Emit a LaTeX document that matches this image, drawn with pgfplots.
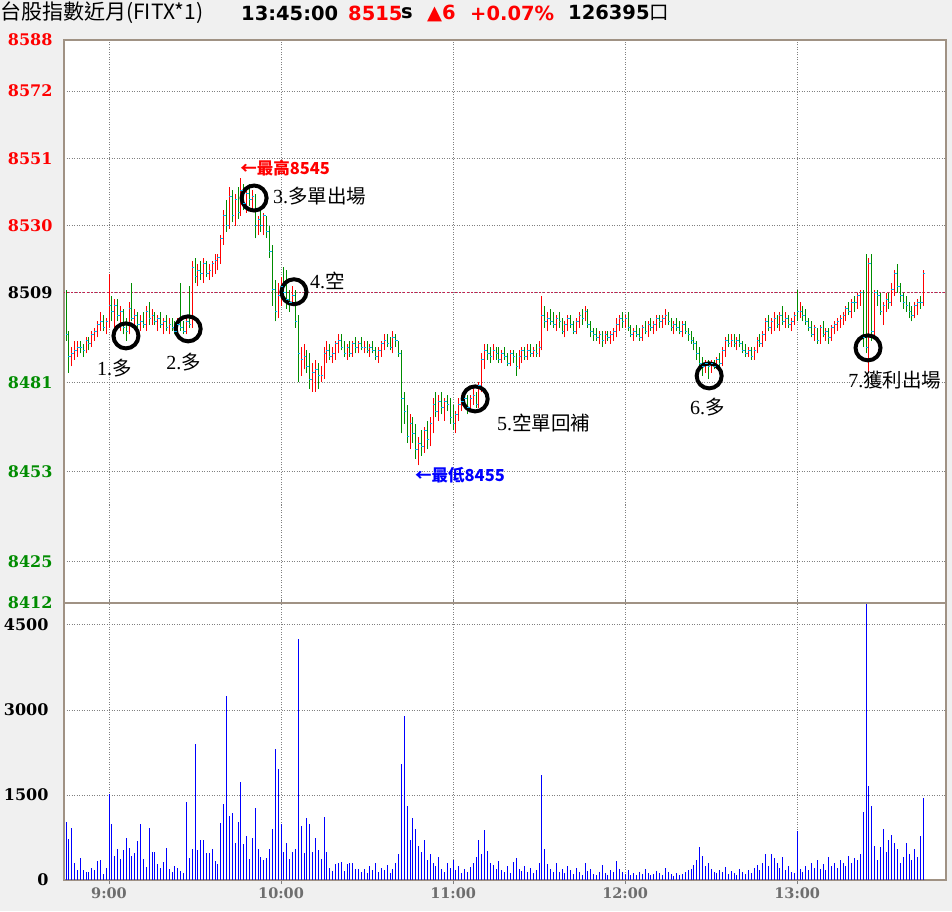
\documentclass[border=0pt]{standalone}
\usepackage{pgfplots}
\pgfplotsset{compat=1.18}
\usepackage{pgfplotstable}
\usepackage{fontspec}
\setmainfont{DejaVu Serif}
\newfontfamily\cjk{Noto Sans CJK TC}
\newfontfamily\dvs{DejaVu Sans}
\newfontfamily\tnr{Liberation Serif}
\definecolor{bgc}{RGB}{240,240,240}
\definecolor{bord}{RGB}{160,146,132}
\definecolor{gridc}{RGB}{128,128,128}
\definecolor{upc}{RGB}{255,0,0}
\definecolor{dnc}{RGB}{0,140,0}
\definecolor{cyc}{RGB}{0,176,240}
\definecolor{refc}{RGB}{200,30,80}
\definecolor{lblgreen}{RGB}{0,140,0}
\definecolor{timec}{RGB}{110,110,110}
\pgfplotsset{
  mybase/.style={
    scale only axis, width=882pt,
    xmin=-0.7, xmax=306.9,
    axis background/.style={fill=white},
    axis line style={draw=bord, line width=1.2pt},
    xtick={15,75,135,195,255},
    grid=major,
    major grid style={draw=gridc, line width=0.8pt, dash pattern=on 1pt off 1.5pt},
  }
}
\newcommand\ann[2]{{\tnr\fontsize{20}{20}\selectfont #1}{\cjk\fontsize{19.5}{20}\selectfont #2}}
\newcommand\hd{\dvs\bfseries\fontsize{19.5}{20}\selectfont}
\pgfplotstableread{
m l h c d v
0 8494 8510 8496 0 1030
1 8484 8497 8489 0 730
2 8486 8492 8490 1 920
3 8488 8494 8491 1 300
4 8489 8494 8492 1 180
5 8490 8494 8492 0 380
6 8489 8493 8491 0 180
7 8490 8495 8494 1 140
8 8491 8495 8493 0 140
9 8492 8497 8496 1 210
10 8494 8498 8497 1 180
11 8495 8500 8499 1 330
12 8497 8503 8500 1 350
13 8497 8502 8498 0 110
14 8496 8501 8500 1 210
15 8498 8515 8505 1 1510
16 8500 8508 8503 0 990
17 8498 8507 8505 1 430
18 8500 8507 8502 0 550
19 8497 8505 8503 1 370
20 8496 8504 8498 0 530
21 8494 8501 8497 0 740
22 8496 8506 8504 1 570
23 8500 8512 8501 0 430
24 8498 8504 8502 1 470
25 8496 8503 8499 0 680
26 8497 8502 8500 1 980
27 8498 8503 8499 0 370
28 8497 8505 8503 1 230
29 8499 8506 8501 0 920
30 8499 8504 8502 1 490
31 8499 8503 8500 0 490
32 8497 8502 8501 1 280
33 8498 8503 8499 0 210
34 8496 8501 8500 1 320
35 8497 8502 8498 0 570
36 8496 8501 8499 1 190
37 8497 8501 8498 0 140
38 8496 8500 8497 0 250
39 8496 8501 8499 1 210
40 8497 8512 8498 0 160
41 8496 8500 8497 0 120
42 8496 8501 8500 1 1380
43 8498 8511 8499 0 380
44 8498 8519 8517 1 550
45 8512 8520 8514 0 2400
46 8511 8518 8516 1 530
47 8513 8519 8515 0 700
48 8512 8520 8518 1 700
49 8514 8519 8515 0 470
50 8513 8518 8516 1 470
51 8514 8519 8518 1 550
52 8515 8521 8519 1 330
53 8516 8521 8520 1 280
54 8518 8527 8526 1 1000
55 8524 8535 8533 1 1340
56 8528 8538 8530 0 3250
57 8529 8542 8539 1 1130
58 8531 8541 8533 0 1180
59 8530 8540 8538 1 660
60 8532 8542 8534 0 1020
61 8533 8545 8541 1 1720
62 8535 8543 8537 0 640
63 8534 8541 8540 1 780
64 8536 8543 8538 0 370
65 8535 8541 8539 1 740
66 8526 8540 8530 0 1270
67 8527 8533 8532 1 550
68 8528 8535 8530 0 410
69 8527 8534 8533 1 350
70 8526 8533 8528 0 380
71 8520 8530 8522 0 550
72 8505 8524 8510 0 900
73 8500 8513 8503 0 2310
74 8501 8512 8508 1 1960
75 8505 8514 8511 1 990
76 8507 8517 8509 0 500
77 8504 8516 8507 0 660
78 8503 8510 8506 0 370
79 8505 8511 8508 1 500
80 8498 8510 8500 0 550
81 8481 8502 8490 0 4250
82 8483 8492 8488 1 950
83 8485 8493 8489 1 470
84 8484 8491 8486 0 1090
85 8479 8490 8482 0 990
86 8478 8487 8484 1 500
87 8478 8488 8485 1 740
88 8479 8487 8483 0 530
89 8481 8486 8483 1 370
90 8482 8492 8490 1 1110
91 8487 8494 8491 1 490
92 8488 8493 8489 0 210
93 8487 8492 8490 1 160
94 8488 8494 8493 1 280
95 8490 8496 8494 1 300
96 8491 8496 8492 0 320
97 8489 8494 8490 0 160
98 8488 8493 8492 1 280
99 8489 8494 8490 0 300
100 8489 8494 8493 1 300
101 8490 8495 8492 0 190
102 8490 8494 8493 1 190
103 8491 8495 8492 0 150
104 8490 8494 8492 1 200
105 8490 8494 8491 0 120
106 8489 8493 8492 1 250
107 8490 8494 8491 0 180
108 8488 8492 8489 0 300
109 8487 8492 8491 1 140
110 8489 8494 8493 1 220
111 8491 8496 8494 1 170
112 8492 8496 8493 0 260
113 8491 8495 8492 0 130
114 8490 8497 8495 1 200
115 8492 8496 8494 0 300
116 8489 8494 8490 0 450
117 8465 8491 8476 0 2050
118 8468 8478 8472 0 2900
119 8462 8474 8464 0 1300
120 8460 8471 8468 1 700
121 8462 8470 8465 0 1100
122 8457 8468 8460 0 900
123 8455 8464 8462 1 600
124 8458 8466 8461 0 500
125 8459 8467 8466 1 700
126 8460 8469 8463 0 350
127 8461 8470 8468 1 450
128 8465 8476 8474 1 300
129 8470 8478 8472 0 250
130 8469 8477 8475 1 400
131 8471 8478 8473 0 200
132 8469 8476 8475 1 150
133 8472 8477 8474 0 300
134 8468 8476 8470 0 220
135 8466 8474 8468 0 350
136 8465 8472 8471 1 180
137 8469 8476 8474 1 240
138 8472 8477 8475 1 120
139 8473 8478 8476 1 200
140 8471 8477 8473 0 150
141 8472 8477 8476 1 230
142 8474 8479 8477 1 300
143 8473 8478 8474 0 400
144 8473 8481 8480 1 700
145 8478 8490 8488 1 450
146 8485 8493 8491 1 880
147 8488 8493 8490 0 520
148 8487 8492 8489 0 300
149 8488 8493 8491 1 260
150 8488 8492 8490 0 200
151 8487 8492 8488 0 330
152 8487 8491 8490 1 180
153 8488 8492 8489 0 150
154 8486 8490 8487 0 240
155 8486 8491 8490 1 120
156 8487 8491 8489 0 310
157 8483 8490 8486 0 380
158 8485 8491 8489 1 200
159 8487 8492 8491 1 160
160 8488 8492 8489 0 250
161 8488 8493 8491 1 140
162 8489 8493 8490 0 220
163 8489 8492 8491 1 130
164 8489 8493 8490 0 180
165 8489 8494 8492 1 300
166 8491 8508 8502 1 1850
167 8498 8505 8500 0 550
168 8497 8503 8501 1 280
169 8499 8504 8500 0 200
170 8498 8503 8499 0 150
171 8497 8502 8501 1 300
172 8498 8503 8500 0 150
173 8496 8501 8497 0 200
174 8495 8500 8499 1 120
175 8497 8502 8501 1 250
176 8498 8502 8499 0 180
177 8496 8500 8497 0 100
178 8496 8501 8500 1 220
179 8498 8503 8502 1 140
180 8499 8504 8501 0 90
181 8500 8505 8503 1 300
182 8498 8504 8499 0 160
183 8495 8500 8497 0 200
184 8494 8498 8496 0 110
185 8494 8498 8495 0 80
186 8493 8497 8496 1 150
187 8492 8497 8494 0 260
188 8493 8497 8496 1 120
189 8494 8497 8495 0 90
190 8493 8497 8496 1 180
191 8494 8498 8497 1 140
192 8495 8501 8499 1 330
193 8497 8502 8501 1 200
194 8498 8503 8500 0 150
195 8498 8502 8501 1 100
196 8497 8503 8498 0 170
197 8495 8499 8496 0 80
198 8494 8498 8497 1 120
199 8495 8499 8496 0 90
200 8494 8498 8495 0 150
201 8494 8499 8498 1 110
202 8496 8500 8497 0 200
203 8495 8500 8499 1 130
204 8497 8501 8498 0 80
205 8496 8500 8499 1 100
206 8497 8502 8501 1 160
207 8498 8502 8500 0 120
208 8498 8502 8501 1 90
209 8499 8504 8502 1 220
210 8499 8503 8500 0 140
211 8497 8501 8498 0 100
212 8496 8500 8499 1 70
213 8497 8501 8498 0 130
214 8496 8500 8497 0 90
215 8495 8500 8499 1 110
216 8496 8500 8497 0 150
217 8494 8498 8496 0 180
218 8493 8497 8494 0 200
219 8491 8495 8493 0 260
220 8488 8494 8490 0 350
221 8485 8492 8487 0 580
222 8483 8489 8486 0 420
223 8484 8488 8487 1 250
224 8482 8488 8486 0 300
225 8484 8488 8487 1 200
226 8485 8488 8486 0 150
227 8485 8489 8488 1 120
228 8486 8490 8487 0 180
229 8486 8492 8491 1 140
230 8489 8495 8494 1 230
231 8492 8496 8493 0 100
232 8492 8496 8494 1 160
233 8492 8496 8493 0 120
234 8491 8495 8494 1 90
235 8492 8496 8493 0 200
236 8490 8494 8491 0 150
237 8489 8493 8490 0 110
238 8489 8492 8491 1 170
239 8488 8492 8489 0 130
240 8488 8492 8491 1 220
241 8490 8495 8494 1 260
242 8492 8496 8493 0 180
243 8492 8497 8496 1 300
244 8494 8501 8500 1 450
245 8497 8502 8498 0 250
246 8496 8501 8500 1 460
247 8497 8503 8501 1 380
248 8498 8502 8499 0 300
249 8497 8503 8502 1 220
250 8499 8505 8500 0 400
251 8498 8503 8501 1 180
252 8498 8502 8499 0 250
253 8497 8501 8500 1 150
254 8499 8503 8502 1 120
255 8500 8510 8503 0 860
256 8501 8506 8503 1 200
257 8500 8505 8502 0 150
258 8499 8504 8500 0 250
259 8497 8501 8498 0 180
260 8495 8500 8496 0 300
261 8494 8499 8498 1 220
262 8493 8498 8494 0 350
263 8493 8499 8498 1 200
264 8495 8500 8496 0 280
265 8494 8498 8497 1 180
266 8493 8498 8495 0 400
267 8494 8499 8498 1 250
268 8496 8500 8499 1 300
269 8497 8501 8500 1 220
270 8498 8502 8501 1 350
271 8499 8503 8502 1 300
272 8500 8505 8504 1 250
273 8502 8506 8503 0 420
274 8501 8507 8506 1 300
275 8503 8508 8506 0 380
276 8504 8509 8508 1 350
277 8505 8510 8509 1 450
278 8492 8510 8495 0 1200
279 8490 8521 8492 0 4950
280 8484 8520 8518 1 1650
281 8494 8521 8497 0 1300
282 8495 8510 8509 1 600
283 8505 8510 8508 0 350
284 8502 8509 8503 0 580
285 8499 8506 8505 1 900
286 8503 8509 8507 1 500
287 8504 8509 8506 0 700
288 8505 8512 8510 1 800
289 8508 8516 8515 1 650
290 8509 8518 8511 0 550
291 8506 8512 8508 0 300
292 8504 8509 8506 0 400
293 8503 8508 8505 0 650
294 8501 8506 8503 0 450
295 8500 8505 8502 0 350
296 8501 8506 8505 1 550
297 8502 8507 8506 1 400
298 8504 8508 8506 0 780
299 8505 8516 8515 1 1450
}\data
\begin{document}
\begin{tikzpicture}
\fill[bgc] (0pt,0pt) rectangle (952pt,911pt);
% ---------- price panel ----------
\begin{axis}[mybase, at={(64pt,308pt)}, anchor=south west, height=563pt,
  ymin=8412, ymax=8588,
  ytick={8412,8425,8453,8481,8509,8530,8551,8572,8588},
  yticklabels={\textcolor{lblgreen}{8412},\textcolor{lblgreen}{8425},\textcolor{lblgreen}{8453},\textcolor{lblgreen}{8481},\textcolor{black}{8509},\textcolor{red}{8530},\textcolor{red}{8551},\textcolor{red}{8572},\textcolor{red}{8588}},
  xticklabels={}, tick style={draw=none},
  yticklabel style={font=\bfseries\fontsize{16}{16}\selectfont, xshift=-8pt},
]
\addplot[refc, line width=0.8pt, dash pattern=on 2pt off 2pt, forget plot] coordinates {(-1,8509) (308,8509)};
\addplot[draw=none, mark=none, restrict expr to domain={\thisrow{d}}{0.5:1.5},
  error bars/.cd, y dir=plus, y explicit, error mark=none,
  error bar style={draw=upc, line width=1pt, solid}]
  table[x=m, y=l, y error plus expr=\thisrow{h}-\thisrow{l}] {\data};
\addplot[draw=none, mark=none, restrict expr to domain={\thisrow{d}}{-0.5:0.5},
  error bars/.cd, y dir=plus, y explicit, error mark=none,
  error bar style={draw=dnc, line width=1pt, solid}]
  table[x=m, y=l, y error plus expr=\thisrow{h}-\thisrow{l}] {\data};
\addplot[only marks, mark=-, mark size=1.3pt, mark options={draw=cyc, line width=1pt, solid, xshift=0.8pt}]
  table[x=m, y=c] {\data};
% annotations
\draw[black, line width=4pt] (axis cs:20.9,8495.5) circle[radius=12.5pt];
\draw[black, line width=4pt] (axis cs:42.6,8497.7) circle[radius=12.5pt];
\draw[black, line width=4pt] (axis cs:65.6,8538.6) circle[radius=12.5pt];
\draw[black, line width=4pt] (axis cs:79.5,8509.3) circle[radius=12.5pt];
\draw[black, line width=4pt] (axis cs:142.7,8475.8) circle[radius=12.5pt];
\draw[black, line width=4pt] (axis cs:224.3,8483) circle[radius=12.5pt];
\draw[black, line width=4pt] (axis cs:279.7,8491.75) circle[radius=12.5pt];
\node[anchor=west, inner sep=0] at (axis cs:10.8,8485.5) {\ann{1.}{多}};
\node[anchor=west, inner sep=0] at (axis cs:34.9,8487.4) {\ann{2.}{多}};
\node[anchor=west, inner sep=0] at (axis cs:72.2,8539.3) {\ann{3.}{多單出場}};
\node[anchor=west, inner sep=0] at (axis cs:85.1,8512.7) {\ann{4.}{空}};
\node[anchor=west, inner sep=0] at (axis cs:150.3,8468.3) {\ann{5.}{空單回補}};
\node[anchor=west, inner sep=0] at (axis cs:217.6,8473.3) {\ann{6.}{多}};
\node[anchor=west, inner sep=0] at (axis cs:272.8,8481.8) {\ann{7.}{獲利出場}};
\node[anchor=west, inner sep=0, text=red] at (axis cs:60.7,8548) {\cjk\bfseries\fontsize{16.5}{17}\selectfont ←最高8545};
\node[anchor=west, inner sep=0, text=blue] at (axis cs:121.7,8452.1) {\cjk\bfseries\fontsize{16.5}{17}\selectfont ←最低8455};
\end{axis}
% ---------- volume panel ----------
\begin{axis}[mybase, at={(64pt,31pt)}, anchor=south west, height=277pt,
  ymin=0, ymax=4886,
  ytick={0,1500,3000,4500}, yticklabels={0,1500,3000,4500},
  yticklabel style={font=\bfseries\fontsize{16}{16}\selectfont, xshift=-8pt},
  xticklabels={9:00,10:00,11:00,12:00,13:00},
  xticklabel style={font=\bfseries\fontsize{14.5}{15}\selectfont, text=timec},
  ytick style={draw=none}, xtick style={draw=gridc, line width=1pt},
  major tick length=4pt, tick align=outside,
]
\addplot[ycomb, draw=blue, line width=1pt, mark=none] table[x=m, y=v] {\data};
\draw[bord, line width=2.5pt] (rel axis cs:0,1) -- (rel axis cs:1,1);
\end{axis}
% ---------- header ----------
\node[anchor=west, inner sep=0] at (0pt,898pt) {\cjk\fontsize{21}{21}\selectfont 台股指數近月(FITX*1)};
\node[anchor=west, inner sep=0] at (241pt,898pt) {\hd 13:45:00};
\node[anchor=west, inner sep=0, text=red] at (348pt,898pt) {\hd 8515};
\node[anchor=west, inner sep=0] at (401pt,898pt) {\hd s};
\node[anchor=west, inner sep=0, text=red] at (427pt,898pt) {\hd ▲6};
\node[anchor=west, inner sep=0, text=red] at (470pt,898pt) {\hd +0.07\%};
\node[anchor=west, inner sep=0] at (568pt,898pt) {\hd 126395{\cjk\mdseries 口}};
\end{tikzpicture}
\end{document}
